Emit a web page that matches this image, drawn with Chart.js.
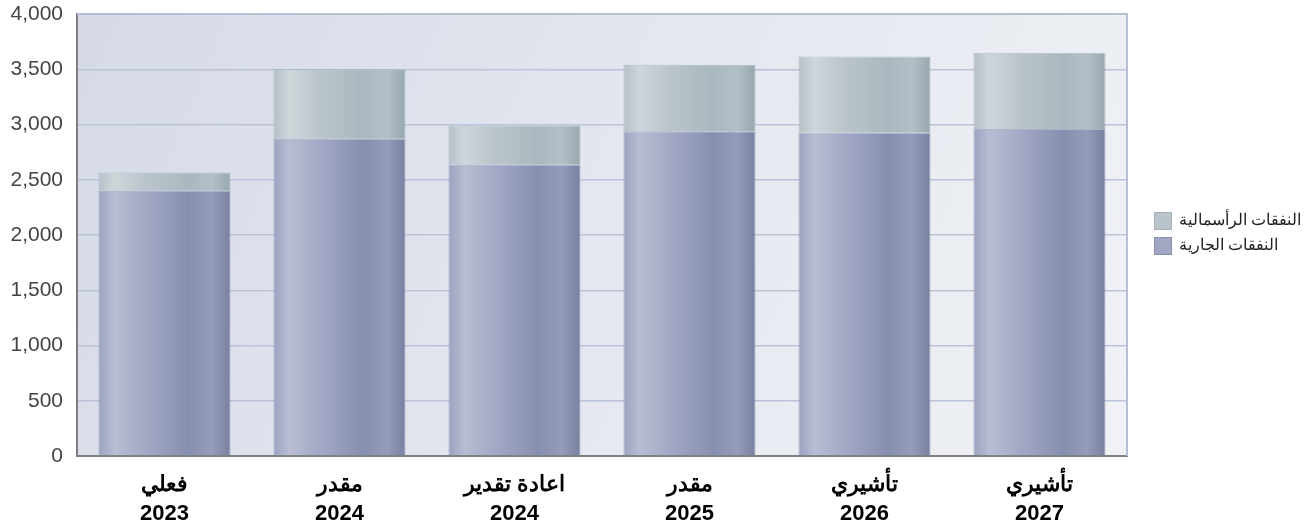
<!DOCTYPE html>
<html>
<head>
<meta charset="utf-8">
<script src="https://cdn.jsdelivr.net/npm/chart.js@4/dist/chart.umd.min.js"></script>
<style>
  html, body { margin: 0; padding: 0; background: #ffffff; }
  #wrap { width: 1312px; height: 527px; position: relative; }
</style>
</head>
<body>
<div id="wrap"><canvas id="chart-expenses"></canvas></div>
<script>
// data
const categories = [
    ['فعلي', '2023'],
    ['مقدر', '2024'],
    ['اعادة تقدير', '2024'],
    ['مقدر', '2025'],
    ['تأشيري', '2026'],
    ['تأشيري', '2027']
];
const currentLabel = 'النفقات الجارية';
const capitalLabel = 'النفقات الرأسمالية';
const currentValues = [2400, 2870, 2635, 2940, 2925, 2960];
const capitalValues = [165, 630, 355, 600, 690, 690];
const yTicks = [0, 500, 1000, 1500, 2000, 2500, 3000, 3500, 4000];

const BAR_PCT = 0.755;
const FONT = 'Arial, "Liberation Sans", sans-serif';

// cylinder-like horizontal gradient per bar
function barGradient(stops) {
    return function(context) {
        const chart = context.chart;
        const area = chart.chartArea;
        const xScale = chart.scales.x;
        if (!area || !xScale || context.type !== 'data') return stops[0][1];
        const center = xScale.getPixelForValue(context.dataIndex);
        const half = (xScale.width / categories.length) * BAR_PCT / 2;
        const g = chart.ctx.createLinearGradient(center - half, 0, center + half, 0);
        stops.forEach(s => g.addColorStop(s[0], s[1]));
        return g;
    };
}

const currentStops = [
    [0, '#9aa2c0'], [0.12, '#b9bdd3'], [0.35, '#a3a9c5'],
    [0.68, '#878fb0'], [0.86, '#959cb9'], [1, '#7880a1']
];
const capitalStops = [
    [0, '#b4c0c7'], [0.12, '#ced6da'], [0.35, '#bac5cb'],
    [0.68, '#a9b8bf'], [0.86, '#b2bfc6'], [1, '#97a7ae']
];

// plot background, top/right frame
const plotBackground = {
    id: 'plotBackground',
    beforeDraw(chart) {
        const { ctx, chartArea: a } = chart;
        const g = ctx.createLinearGradient(a.left, a.top, a.right, a.bottom);
        g.addColorStop(0, '#d6dae7');
        g.addColorStop(0.5, '#e4e7ef');
        g.addColorStop(1, '#f0f2f6');
        ctx.save();
        ctx.fillStyle = g;
        ctx.fillRect(a.left, a.top, a.right - a.left, a.bottom - a.top);
        ctx.restore();
    },
    afterDraw(chart) {
        const { ctx, chartArea: a } = chart;
        ctx.save();
        ctx.strokeStyle = '#b7bfd3';
        ctx.lineWidth = 2;
        ctx.beginPath();
        ctx.moveTo(a.left, a.top);
        ctx.lineTo(a.right, a.top);
        ctx.lineTo(a.right, a.bottom);
        ctx.stroke();
        ctx.restore();
    }
};

// legend on the right, capital on top
const sideLegend = {
    id: 'sideLegend',
    afterDraw(chart) {
        const { ctx, chartArea: a } = chart;
        const fills = ['#a1a7c3', '#bac5cb'];
        const strokes = ['#8890ad', '#a5b2b9'];
        const x = a.right + 27;
        let y = 212;
        ctx.save();
        ctx.font = '16px ' + FONT;
        ctx.textBaseline = 'middle';
        ctx.textAlign = 'left';
        for (let i = chart.data.datasets.length - 1; i >= 0; i--) {
            ctx.fillStyle = fills[i];
            ctx.fillRect(x, y, 18, 18);
            ctx.strokeStyle = strokes[i];
            ctx.lineWidth = 1;
            ctx.strokeRect(x + 0.5, y + 0.5, 17, 17);
            ctx.fillStyle = '#222222';
            ctx.fillText(chart.data.datasets[i].label, x + 25, y + 9);
            y += 25;
        }
        ctx.restore();
    }
};

const ctx = document.getElementById('chart-expenses').getContext('2d');
new Chart(ctx, {
    type: 'bar',
    data: {
        labels: categories,
        datasets: [
            {
                label: currentLabel,
                data: currentValues,
                backgroundColor: barGradient(currentStops),
                borderColor: 'rgba(120,130,165,0.55)',
                borderWidth: 1,
                categoryPercentage: 1,
                barPercentage: BAR_PCT
            },
            {
                label: capitalLabel,
                data: capitalValues,
                backgroundColor: barGradient(capitalStops),
                borderColor: 'rgba(150,165,175,0.6)',
                borderWidth: 1,
                categoryPercentage: 1,
                barPercentage: BAR_PCT
            }
        ]
    },
    options: {
        responsive: true,
        maintainAspectRatio: false,
        animation: false,
        layout: {
            padding: { top: 14, right: 185, left: 0, bottom: 0 }
        },
        plugins: {
            legend: { display: false },
            tooltip: { enabled: false }
        },
        scales: {
            x: {
                stacked: true,
                afterFit: function(axis) {
                    axis.height = 71;
                    axis.paddingLeft = 0;
                    axis.paddingRight = 0;
                    axis.paddingTop = 0;
                    axis.paddingBottom = 0;
                },
                grid: { display: false },
                border: { color: '#7f7f7f', width: 2 },
                ticks: {
                    color: '#000000',
                    padding: 7,
                    maxRotation: 0,
                    font: { family: FONT, size: 22, weight: 'bold', lineHeight: 1.3 }
                }
            },
            y: {
                stacked: true,
                min: 0,
                max: 4000,
                afterFit: function(axis) {
                    axis.width = 77;
                    axis.paddingTop = 0;
                    axis.paddingBottom = 0;
                },
                afterBuildTicks: function(axis) {
                    axis.ticks = yTicks.map(v => ({ value: v }));
                },
                grid: { color: '#b9c3da', lineWidth: 1.5, drawTicks: false },
                border: { color: '#7f7f7f', width: 2 },
                ticks: {
                    color: '#444444',
                    padding: 14,
                    font: { family: FONT, size: 21 },
                    callback: function(value) {
                        return value.toLocaleString('en-US');
                    }
                }
            }
        }
    },
    plugins: [plotBackground, sideLegend]
});
</script>
</body>
</html>
